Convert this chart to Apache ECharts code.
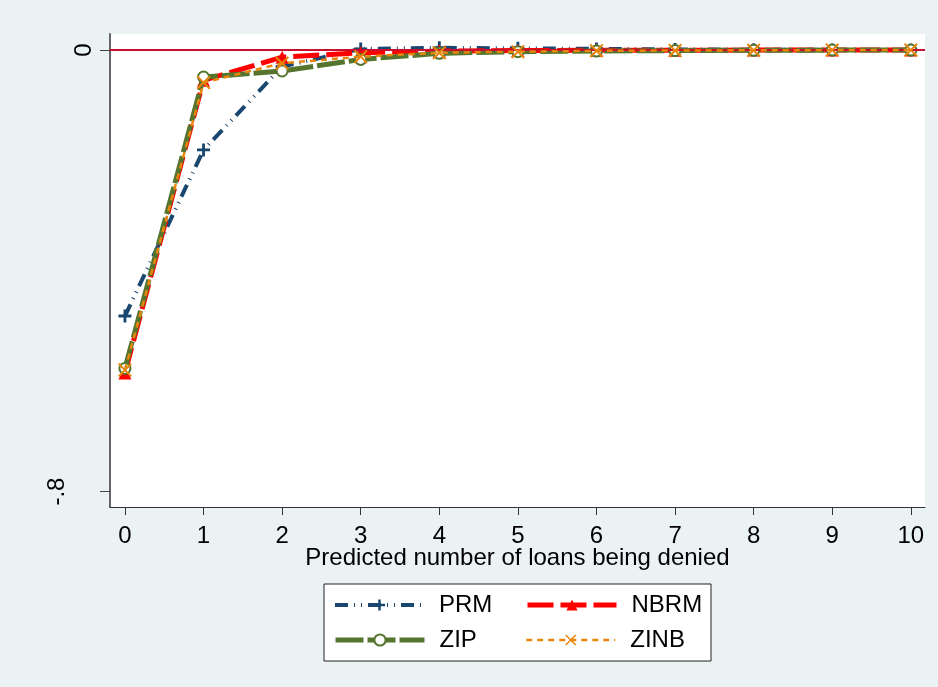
<!DOCTYPE html>
<html>
<head>
<meta charset="utf-8">
<script src="https://cdn.jsdelivr.net/npm/echarts@6/dist/echarts.min.js"></script>
<style>
  html, body { margin: 0; padding: 0; background: #eaf2f3; }
  #main { width: 938px; height: 687px; }
</style>
</head>
<body>
<div id="main"></div>
<script>
// predicted number of denied loans
var xs = [0, 1, 2, 3, 4, 5, 6, 7, 8, 9, 10];
// differences
var prm = [-0.482, -0.181, -0.030, 0.002, 0.004, 0.003, 0.002, 0.001, 0.0005, 0.0002, 0.0001];
var nbrm = [-0.585, -0.055, -0.013, -0.005, -0.002, -0.001, -0.0005, -0.0003, -0.0002, -0.0001, 0];
var zip = [-0.577, -0.049, -0.038, -0.017, -0.006, -0.003, -0.002, -0.001, -0.0005, -0.0002, -0.0001];
var zinb = [-0.580, -0.059, -0.024, -0.012, -0.005, -0.003, -0.0015, -0.001, -0.0005, -0.0002, -0.0001];
var yTicks = [-0.8, 0];

var font = "'Liberation Sans', Arial, sans-serif";
var plus = "path://M-1,-0.22H-0.22V-1H0.22V-0.22H1V0.22H0.22V1H-0.22V0.22H-1Z";
var cross = "path://M-1,-0.8L-0.8,-1L0,-0.2L0.8,-1L1,-0.8L0.2,0L1,0.8L0.8,1L0,0.2L-0.8,1L-1,0.8L-0.2,0Z";

function pairs(vals) {
  return xs.map(function (x, i) { return [x, vals[i]]; });
}

var myChart = echarts.init(document.getElementById("main"));

function legendAt(name, left, top) {
  return {
    data: [name],
    left: left,
    top: top,
    itemWidth: 89,
    itemHeight: 14,
    padding: 0,
    selectedMode: false,
    lineStyle: { width: "inherit", type: "inherit" },
    textStyle: { fontFamily: font, fontSize: 24, color: "#000", padding: [0, 0, 0, 10], lineHeight: 24 },
  };
}

var option = {
  backgroundColor: "#eaf2f3",
  animation: false,
  grid: {
    left: 110,
    top: 34,
    right: 13,
    bottom: 180,
    show: true,
    backgroundColor: "#fff",
    borderWidth: 0,
  },
  legend: [
    legendAt("PRM", 333, 593),
    legendAt("NBRM", 525, 593),
    legendAt("ZIP", 333, 628),
    legendAt("ZINB", 525, 628),
  ],
  graphic: [
    {
      type: "rect",
      z: 0,
      shape: { x: 324, y: 584, width: 387, height: 77 },
      style: { fill: "#fff", stroke: "#222", lineWidth: 1 },
    },
  ],
  xAxis: {
    type: "value",
    min: -0.19,
    max: 10.18,
    name: "Predicted number of loans being denied",
    nameLocation: "middle",
    nameGap: 39,
    nameMoveOverlap: false,
    nameTextStyle: { fontFamily: font, fontSize: 24, color: "#000" },
    splitLine: { show: false },
    axisLine: { show: true, onZero: false, lineStyle: { color: "#333", width: 1 } },
    axisTick: { show: true, length: 8, customValues: xs, lineStyle: { color: "#333" } },
    axisLabel: {
      customValues: xs,
      margin: 17,
      fontFamily: font,
      fontSize: 24,
      color: "#000",
    },
  },
  yAxis: {
    type: "value",
    min: -0.828,
    max: 0.029,
    splitLine: { show: false },
    axisLine: { show: true, onZero: false, lineStyle: { color: "#666", width: 2 } },
    axisTick: { show: true, length: 10, customValues: yTicks, lineStyle: { color: "#444" } },
    axisLabel: {
      customValues: yTicks,
      rotate: 90,
      margin: 14,
      fontFamily: font,
      fontSize: 24,
      color: "#000",
      formatter: function (v) {
        var s = String(v).replace("0.", ".");
        return v < 0 ? "{neg|" + s + "}" : s;
      },
      rich: {
        neg: { fontFamily: font, fontSize: 24, color: "#000", padding: [0, 0, 27, 0] },
      },
    },
  },
  series: [
    {
      name: "PRM",
      type: "line",
      data: pairs(prm),
      z: 2,
      symbol: plus,
      symbolSize: 13,
      color: "#1a476f",
      itemStyle: { color: "#1a476f" },
      lineStyle: { color: "#1a476f", width: 4, type: [13, 6, 1, 6, 1, 6], cap: "butt" },
      markLine: {
        silent: true,
        symbol: "none",
        label: { show: false },
        lineStyle: { color: "#c8102e", width: 2, type: "solid" },
        data: [{ yAxis: 0 }],
      },
    },
    {
      name: "NBRM",
      type: "line",
      data: pairs(nbrm),
      z: 3,
      symbol: "triangle",
      symbolSize: 13,
      color: "#ff0000",
      itemStyle: { color: "#ff0000" },
      lineStyle: { color: "#ff0000", width: 5, type: [26, 7], cap: "butt" },
    },
    {
      name: "ZIP",
      type: "line",
      data: pairs(zip),
      z: 4,
      symbol: "emptyCircle",
      symbolSize: 11,
      color: "#55752f",
      itemStyle: { color: "#55752f", borderWidth: 2.5 },
      lineStyle: { color: "#55752f", width: 5, type: [28, 4], cap: "butt" },
    },
    {
      name: "ZINB",
      type: "line",
      data: pairs(zinb),
      z: 5,
      symbol: cross,
      symbolSize: 14,
      color: "#e8860c",
      itemStyle: { color: "#e8860c" },
      lineStyle: { color: "#e8860c", width: 2.5, type: [6, 5], cap: "butt" },
    },
  ],
};

myChart.setOption(option);
</script>
</body>
</html>
